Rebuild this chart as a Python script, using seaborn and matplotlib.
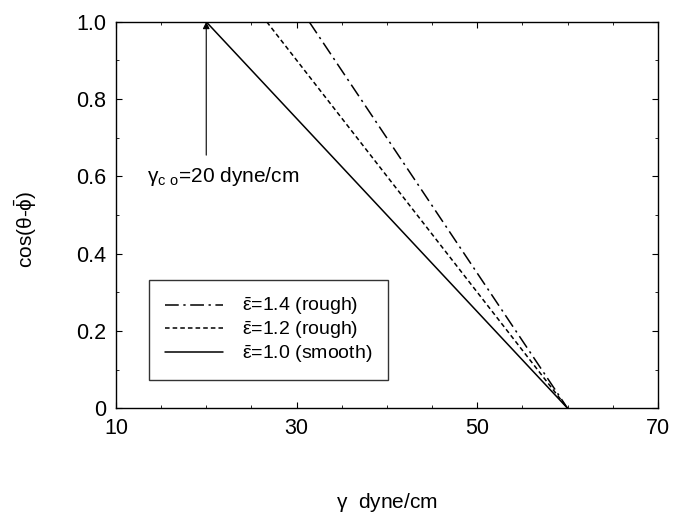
import numpy as np
import pandas as pd
import matplotlib
matplotlib.use("Agg")
import matplotlib.pyplot as plt
import seaborn as sns
from matplotlib.ticker import MultipleLocator

# data: straight lines cos = 1 at start, 0 at gamma = 60
labels = [r"$\bar{\varepsilon}$=1.4 (rough)",
          r"$\bar{\varepsilon}$=1.2 (rough)",
          r"$\bar{\varepsilon}$=1.0 (smooth)"]
gamma_start = [31.4, 26.7, 20.0]
gamma_end = [60.0, 60.0, 60.0]
cos_start = [1.0, 1.0, 1.0]
cos_end = [0.0, 0.0, 0.0]
xticks = [10, 30, 50, 70]
yticks = [0, 0.2, 0.4, 0.6, 0.8, 1.0]
yticklabels = ["0", "0.2", "0.4", "0.6", "0.8", "1.0"]
gamma_c = 20
arrow_tail = 0.655

sns.set_style("ticks")
plt.rcParams['font.family'] = ['Liberation Sans', 'DejaVu Sans']
plt.rcParams['mathtext.fontset'] = 'custom'
plt.rcParams['mathtext.rm'] = 'Liberation Sans'
plt.rcParams['mathtext.default'] = 'regular'
for k in ['text.color', 'axes.labelcolor', 'xtick.color', 'ytick.color', 'axes.edgecolor']:
    plt.rcParams[k] = 'black'

rows = []
for lab, x0, x1, y0, y1 in zip(labels, gamma_start, gamma_end, cos_start, cos_end):
    rows.append({'label': lab, 'gamma': x0, 'cos': y0})
    rows.append({'label': lab, 'gamma': x1, 'cos': y1})
df = pd.DataFrame(rows)

fig, ax = plt.subplots(figsize=(6.74, 5.2), dpi=100)
fig.subplots_adjust(left=0.172, right=0.976, top=0.958, bottom=0.215)

styles = {labels[0]: (0, (9, 3, 1.5, 3)), labels[1]: (0, (3, 2)), labels[2]: '-'}
for lab in labels:
    sub = df[df['label'] == lab]
    sns.lineplot(data=sub, x='gamma', y='cos', ax=ax, color='k', lw=1.1,
                 linestyle=styles[lab], label=lab)

ax.set_xlim(10, 70)
ax.set_ylim(0, 1)
ax.set_xticks(xticks)
ax.set_yticks(yticks)
ax.set_yticklabels(yticklabels)
ax.xaxis.set_minor_locator(MultipleLocator(5))
ax.yaxis.set_minor_locator(MultipleLocator(0.1))
ax.tick_params(which='both', direction='in', top=True, right=True, labelsize=15.5)
ax.tick_params(which='major', length=4, width=0.8)
ax.tick_params(which='minor', length=2, width=0.6)
ax.tick_params(axis='x', pad=7)
ax.tick_params(axis='y', pad=7)
for s in ax.spines.values():
    s.set_linewidth(1.0)

ax.set_xlabel(r"$\gamma$  dyne/cm", fontsize=15)
ax.xaxis.set_label_coords(0.5, -0.215)
ax.set_ylabel(r"cos($\theta$-$\bar{\phi}$)", fontsize=15)
ax.yaxis.set_label_coords(-0.142, 0.464)

ax.annotate("", xy=(gamma_c, 1.0), xytext=(gamma_c, arrow_tail),
            arrowprops=dict(arrowstyle='-|>', color='k', lw=0.8,
                            mutation_scale=10, shrinkA=0, shrinkB=0))
ax.text(13.4, 0.6, r"$\gamma_{c\ o}$=20 dyne/cm", fontsize=15, va='center', ha='left')

leg = ax.legend(loc='lower left', bbox_to_anchor=(0.061, 0.0725), borderaxespad=0,
                fontsize=14, frameon=True, fancybox=False, edgecolor='k',
                handlelength=3.0, labelspacing=0.1, borderpad=0.8, handletextpad=1.0)
leg.get_frame().set_linewidth(1.0)

fig.savefig("out.png", dpi=100)
